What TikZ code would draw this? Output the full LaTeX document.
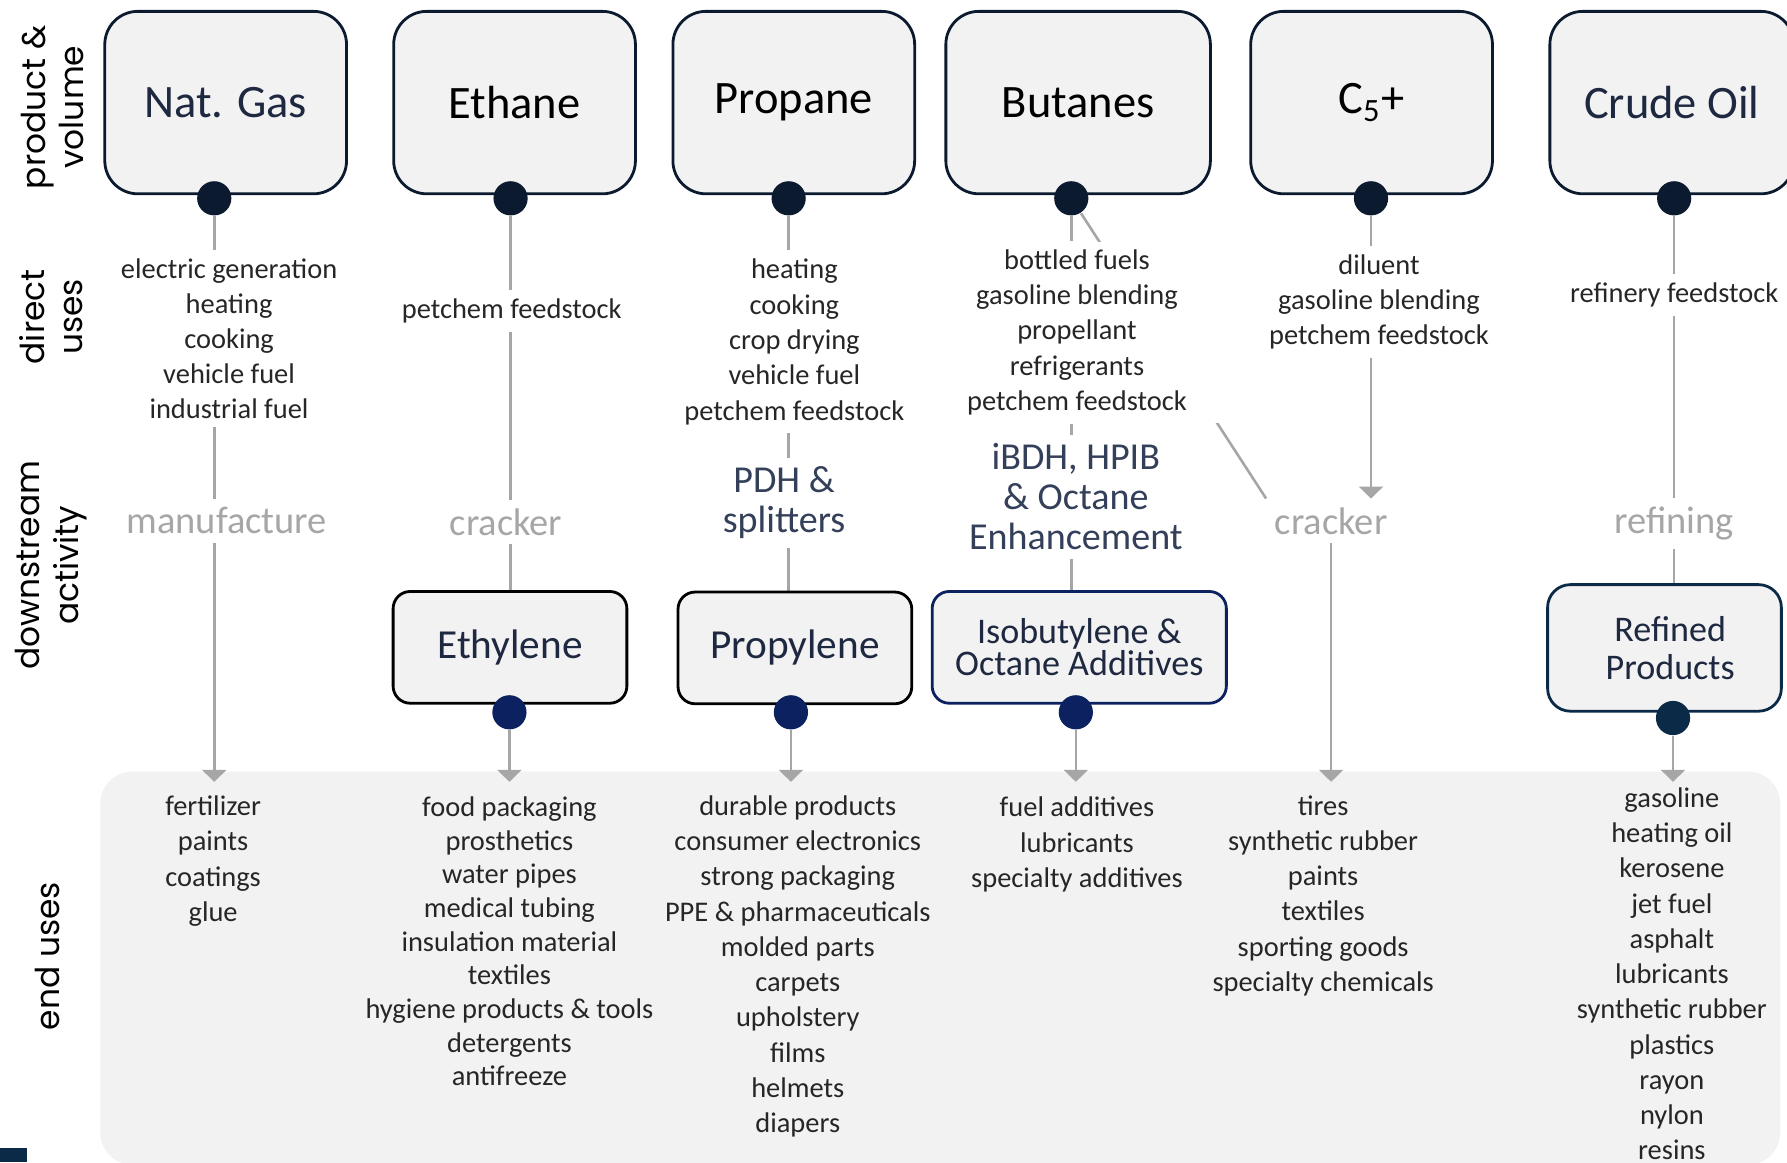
\documentclass[tikz,border=0pt]{standalone}
\usepackage{fontspec}
\setmainfont{Carlito}
\newfontfamily\rowfont{Poppins}
\usetikzlibrary{arrows.meta}
\definecolor{navy}{HTML}{0B1A2E}
\definecolor{boxfill}{HTML}{F2F2F2}
\definecolor{linegray}{HTML}{A6A6A6}
\definecolor{slate}{HTML}{34405A}
\definecolor{royal}{HTML}{0B2160}
\definecolor{steel}{HTML}{0B2A48}
\definecolor{ink}{HTML}{1E2840}
\pgfdeclarelayer{bg}
\pgfsetlayers{bg,main}

\begin{document}
\begin{tikzpicture}[x=0.01cm, y=-0.01cm,
	every node/.style={font=\fontsize{7.1}{8.8}\selectfont, text=black!85, align=center, inner sep=2pt},
	hd/.style={draw=navy, line width=0.7pt, fill=boxfill, rounded corners=0.29cm, minimum width=2.12cm, minimum height=1.6cm, font=\fontsize{11.6}{14}\selectfont, text=black},
	sb/.style={draw=black, line width=0.7pt, fill=boxfill, rounded corners=0.15cm, minimum width=2.05cm, minimum height=0.98cm, font=\fontsize{10.3}{12}\selectfont, text=ink},
	pt/.style={circle, fill=navy, minimum size=0.3cm, inner sep=0pt},
	act/.style={font=\fontsize{9.6}{11}\selectfont, text=linegray},
	proc/.style={font=\fontsize{9.5}{10}\selectfont, text=slate},
	row/.style={rotate=90, font=\rowfont\fontsize{8.2}{9.6}\selectfont, text=black},
	ln/.style={draw=linegray, line width=0.65pt},
	arr/.style={ln, -{Triangle[width=6pt, length=3pt]}}]
	\useasboundingbox (0,0) rectangle (1568,1020);
	\fill[steel] (0,1007) rectangle (24,1020);

	\node[row] (r1) at (46,94) {product \&\\volume};
	\node[row] (r2) at (45,278) {direct\\uses};
	\node[row] (r3) at (45,496) {downstream\\activity};
	\node[row] (r4) at (42,839) {end uses};

	\node[hd, text=ink] (nat) at (198,90) {Nat. Gas};
	\node[hd] (eth) at (451.5,90) {Ethane};
	\node[hd] (pro) at (696.5,90) {Propane};
	\node[hd, minimum width=2.32cm] (but) at (946,90) {Butanes};
	\node[hd] (c5) at (1203.5,90) {C\textsubscript{5}+};
	\node[hd, text=ink, minimum width=2.14cm] (crude) at (1467,90) {Crude Oil};
	\node[pt] (natd) at (188,174) {};
	\node[pt] (ethd) at (448,174) {};
	\node[pt] (prod) at (692,174) {};
	\node[pt] (butd) at (940,174) {};
	\node[pt] (c5d) at (1203,174) {};
	\node[pt] (crud) at (1469,174) {};

	\node[font=\fontsize{7.1}{8.7}\selectfont] (natu) at (201,297) {electric generation\\heating\\cooking\\vehicle fuel\\industrial fuel};
	\node (ethu) at (449,273) {petchem feedstock};
	\node (prou) at (697,300) {heating\\cooking\\crop drying\\vehicle fuel\\petchem feedstock};
	\node[fill=white, minimum width=2.6cm, minimum height=1.57cm] (butu) at (945,291.5) {bottled fuels\\gasoline blending\\propellant\\refrigerants\\petchem feedstock};
	\node (c5u) at (1210,265) {diluent\\gasoline blending\\petchem feedstock};
	\node (crudeu) at (1469,259) {refinery feedstock};

	\node[act] (mfg) at (199,457) {manufacture};
	\node[act] (crk1) at (444,458) {cracker};
	\node[proc] (pdh) at (688,441) {PDH \&\\splitters};
	\node[proc] (ibdh) at (944,436) {iBDH, HPIB\\\& Octane\\Enhancement};
	\node[act] (crk2) at (1168,457) {cracker};
	\node[act] (refg) at (1469,459) {refining};

	\node[sb] (ethyl) at (447.5,568) {Ethylene};
	\node[sb] (propyl) at (697.5,568.5) {Propylene};
	\node[sb, draw=royal, minimum width=2.58cm, font=\fontsize{9}{8}\selectfont] (isob) at (947,568) {Isobutylene \&\\Octane Additives};
	\node[sb, draw=steel, minimum height=1.11cm, rounded corners=0.2cm, font=\fontsize{9}{9.4}\selectfont] (refp) at (1460.5,568.5) {\hspace*{0.1cm}Refined\\\hspace*{0.1cm}Products};
	\node[pt, fill=royal] (ethyld) at (447,625) {};
	\node[pt, fill=royal] (propyld) at (694,625) {};
	\node[pt, fill=royal] (isobd) at (944,625) {};
	\node[pt, fill=steel] (refpd) at (1468,630) {};

	\coordinate (eutop) at (0,686);
	\node (nate) at (187,755.5) {fertilizer\\paints\\coatings\\glue};
	\node[font=\fontsize{7.1}{8.4}\selectfont] (ethyle) at (447,826) {food packaging\\prosthetics\\water pipes\\medical tubing\\insulation material\\textiles\\hygiene products \& tools\\detergents\\antifreeze};
	\node (propyle) at (700,848) {durable products\\consumer electronics\\strong packaging\\PPE \& pharmaceuticals\\molded parts\\carpets\\upholstery\\films\\helmets\\diapers};
	\node (isobe) at (945,741) {fuel additives\\lubricants\\specialty additives};
	\node (crk2e) at (1161,786) {tires\\synthetic rubber\\paints\\textiles\\sporting goods\\specialty chemicals};
	\node (refpe) at (1467,854.5) {gasoline\\heating oil\\kerosene\\jet fuel\\asphalt\\lubricants\\synthetic rubber\\plastics\\rayon\\nylon\\resins};

	\begin{pgfonlayer}{bg}
	\fill[boxfill, rounded corners=0.28cm] (88,677) rectangle (1562,1022);
	\draw[ln] (natd) -- (natd |- natu.north);
	\draw[ln] (natd |- natu.south) -- (natd |- mfg.north);
	\draw[arr] (natd |- mfg.south) -- (natd |- eutop);
	\draw[ln] (ethd) -- (ethd |- ethu.north);
	\draw[ln] (ethd |- ethu.south) -- (ethd |- crk1.north);
	\draw[ln] (ethd |- crk1.south) -- (ethd |- ethyl.north);
	\draw[arr] (ethyld) -- (ethyld |- eutop);
	\draw[ln] (prod) -- (prod |- prou.north);
	\draw[ln] (prod |- prou.south) -- (prod |- pdh.north);
	\draw[ln] (prod |- pdh.south) -- (prod |- propyl.north);
	\draw[arr] (propyld) -- (propyld |- eutop);
	\draw[ln] (butd) -- (butd |- butu.north);
	\draw[ln] (butd) -- (crk2.north west);
	\draw[ln] (butd |- butu.south) -- (butd |- ibdh.north);
	\draw[ln] (butd |- ibdh.south) -- (butd |- isob.north);
	\draw[arr] (isobd) -- (isobd |- eutop);
	\draw[ln] (c5d) -- (c5d |- c5u.north);
	\draw[arr] (c5d |- c5u.south) -- (c5d |- crk2.north);
	\draw[arr] (crk2) -- (crk2 |- eutop);
	\draw[ln] (crud) -- (crud |- crudeu.north);
	\draw[ln] (crud |- crudeu.south) -- (crud |- refg.north);
	\draw[ln] (crud |- refg.south) -- (crud |- refp.north);
	\draw[arr] (refpd) -- (refpd |- eutop);
	\end{pgfonlayer}
\end{tikzpicture}
\end{document}
